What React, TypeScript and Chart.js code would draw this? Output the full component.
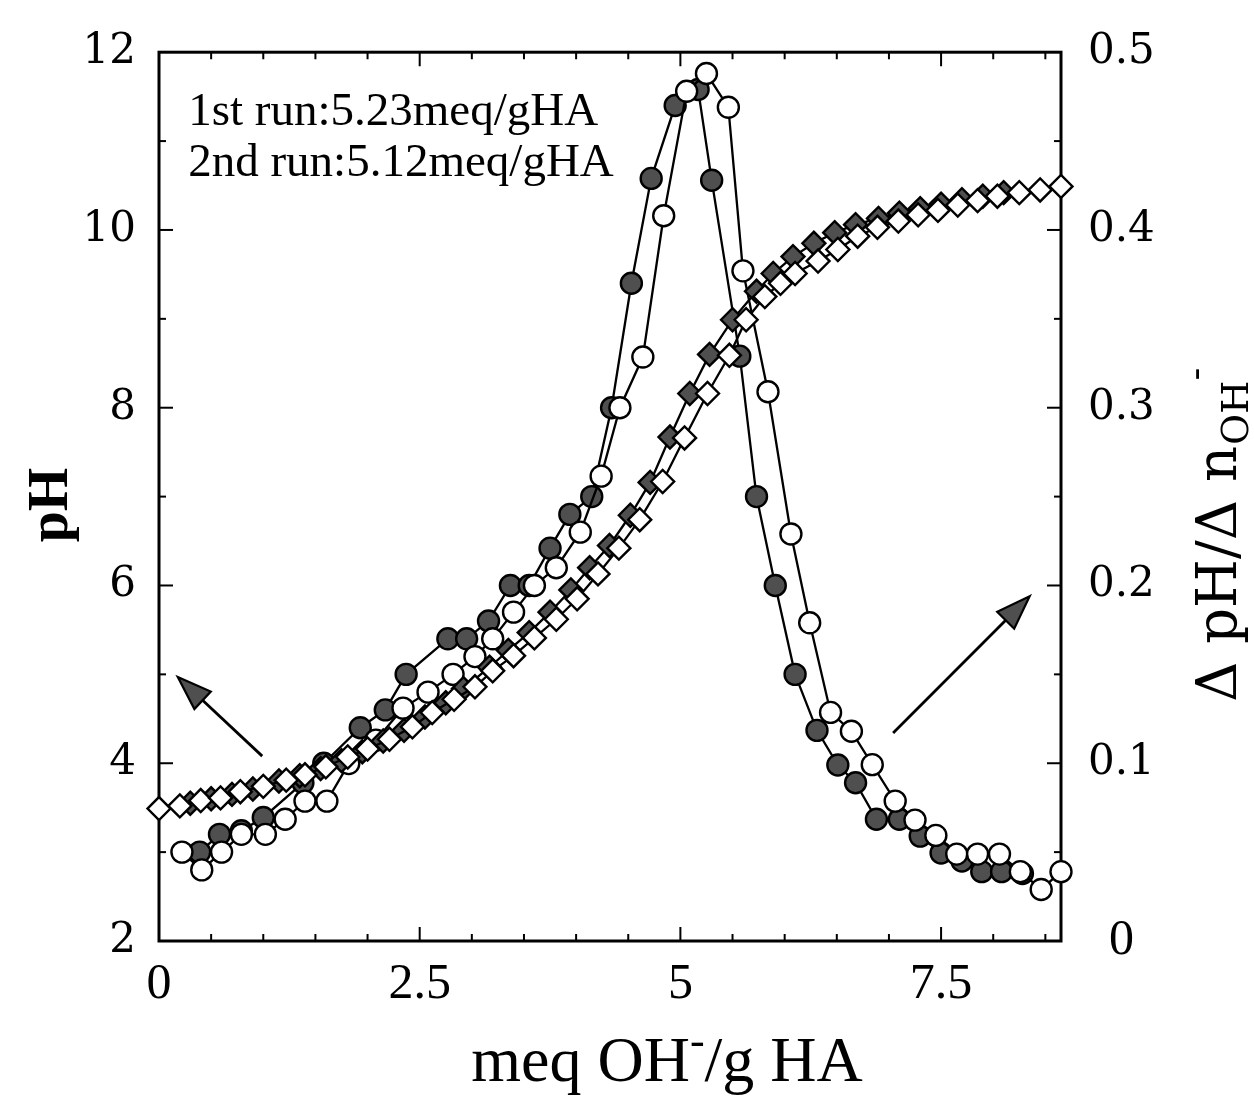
import React, { useEffect, useRef } from 'react';
import { Chart, registerables } from 'chart.js';

Chart.register(...registerables);

// ---- pH titration curves (left axis) ----
// 2nd run (open diamonds)
const openDiamondX = [0, 0.2, 0.4, 0.59, 0.78, 1.0, 1.22, 1.4, 1.6, 1.81, 2.0, 2.21, 2.43, 2.62, 2.83, 3.03, 3.2, 3.4, 3.6, 3.81, 4.01, 4.21, 4.41, 4.61, 4.83, 5.04, 5.26, 5.47, 5.63, 5.81, 5.96, 6.1, 6.32, 6.51, 6.7, 6.89, 7.09, 7.28, 7.47, 7.66, 7.85, 8.04, 8.25, 8.45, 8.65];
const openDiamondPH = [3.49, 3.52, 3.58, 3.61, 3.68, 3.74, 3.81, 3.87, 3.96, 4.07, 4.16, 4.27, 4.41, 4.57, 4.72, 4.86, 5.04, 5.21, 5.41, 5.62, 5.85, 6.13, 6.42, 6.74, 7.17, 7.66, 8.16, 8.59, 8.99, 9.25, 9.4, 9.51, 9.65, 9.78, 9.93, 10.03, 10.1, 10.17, 10.22, 10.28, 10.33, 10.38, 10.42, 10.45, 10.49];
// 1st run (filled diamonds)
const filledDiamondX = [0.3, 0.5, 0.7, 0.9, 1.15, 1.35, 1.55, 1.75, 1.95, 2.15, 2.35, 2.55, 2.75, 2.92, 3.17, 3.35, 3.55, 3.75, 3.95, 4.13, 4.32, 4.52, 4.71, 4.9, 5.09, 5.28, 5.5, 5.73, 5.89, 6.08, 6.28, 6.48, 6.68, 6.9, 7.1, 7.3, 7.5, 7.7, 7.9, 8.1];
const filledDiamondPH = [3.55, 3.6, 3.65, 3.71, 3.8, 3.86, 3.94, 4.03, 4.13, 4.25, 4.37, 4.52, 4.68, 4.84, 5.08, 5.27, 5.47, 5.7, 5.95, 6.2, 6.45, 6.79, 7.16, 7.67, 8.16, 8.6, 8.99, 9.31, 9.51, 9.7, 9.85, 9.97, 10.06, 10.13, 10.19, 10.24, 10.29, 10.34, 10.38, 10.42];

// ---- derivative curves dpH/dn (right axis) ----
// 1st run (filled circles)
const filledCircleX = [0.39, 0.58, 0.79, 1.0, 1.38, 1.58, 1.93, 2.17, 2.37, 2.77, 2.95, 3.16, 3.37, 3.55, 3.75, 3.94, 4.15, 4.34, 4.53, 4.72, 4.95, 5.17, 5.3, 5.57, 5.73, 5.91, 6.1, 6.31, 6.51, 6.68, 6.88, 7.1, 7.3, 7.5, 7.7, 7.89, 8.08, 8.28];
const filledCircleD = [0.05, 0.06, 0.062, 0.0695, 0.089, 0.1, 0.12, 0.13, 0.15, 0.17, 0.17, 0.18, 0.2, 0.2, 0.221, 0.24, 0.25, 0.3, 0.37, 0.429, 0.47, 0.479, 0.428, 0.329, 0.25, 0.2, 0.15, 0.1185, 0.099, 0.089, 0.0685, 0.0685, 0.059, 0.0495, 0.045, 0.039, 0.039, 0.038];
// 2nd run (open circles)
const openCircleX = [0.22, 0.41, 0.6, 0.79, 1.02, 1.21, 1.4, 1.61, 1.82, 2.08, 2.34, 2.58, 2.82, 3.03, 3.2, 3.4, 3.6, 3.81, 4.04, 4.24, 4.42, 4.64, 4.84, 5.06, 5.25, 5.46, 5.6, 5.84, 6.06, 6.24, 6.44, 6.64, 6.84, 7.06, 7.25, 7.45, 7.65, 7.85, 8.06, 8.26, 8.46, 8.65];
const openCircleD = [0.05, 0.04, 0.05, 0.06, 0.06, 0.0685, 0.0787, 0.0787, 0.0998, 0.113, 0.131, 0.14, 0.15, 0.16, 0.17, 0.185, 0.2, 0.21, 0.23, 0.2615, 0.3, 0.3285, 0.408, 0.478, 0.488, 0.469, 0.377, 0.309, 0.229, 0.179, 0.1286, 0.118, 0.0992, 0.0787, 0.068, 0.0594, 0.0489, 0.0489, 0.0489, 0.039, 0.029, 0.039];

// ---- axes ----
const xTicks = [0, 2.5, 5, 7.5];
const xTickLabels = ['0', '2.5', '5', '7.5'];
const phTicks = [2, 4, 6, 8, 10, 12];
const phTickLabels = ['2', '4', '6', '8', '10', '12'];
const derivTicks = [0, 0.1, 0.2, 0.3, 0.4, 0.5];
const derivTickLabels = ['0', '0.1', '0.2', '0.3', '0.4', '0.5'];
const X_MIN = 0;
const X_MAX = 8.65;

// ---- annotations ----
const noteLines = ['1st run:5.23meq/gHA', '2nd run:5.12meq/gHA'];
const xTitle = ['meq OH', '-', '/g HA'];
const yTitle = 'pH';
const y2Title = ['Δ pH/Δ n', 'OH', '-'];

const xy = (xs: number[], ys: number[]) => xs.map((x, i) => ({ x, y: ys[i] }));

const GRAY = '#4f4f4f';

function drawArrow(ctx: CanvasRenderingContext2D, x1: number, y1: number, x2: number, y2: number) {
  const ang = Math.atan2(y2 - y1, x2 - x1);
  const headLen = 34;
  const headW = 12;
  const bx = x2 - headLen * Math.cos(ang);
  const by = y2 - headLen * Math.sin(ang);
  ctx.save();
  ctx.strokeStyle = '#000';
  ctx.lineWidth = 2.8;
  ctx.beginPath();
  ctx.moveTo(x1, y1);
  ctx.lineTo(bx, by);
  ctx.stroke();
  ctx.beginPath();
  ctx.moveTo(x2, y2);
  ctx.lineTo(bx + headW * Math.sin(ang), by - headW * Math.cos(ang));
  ctx.lineTo(bx - headW * Math.sin(ang), by + headW * Math.cos(ang));
  ctx.closePath();
  ctx.fillStyle = GRAY;
  ctx.fill();
  ctx.lineWidth = 2.2;
  ctx.stroke();
  ctx.restore();
}

const framePlugin = {
  id: 'frameTicks',
  beforeDatasetsDraw(chart: any) {
    const { ctx, chartArea } = chart;
    const { left, right, top, bottom } = chartArea;
    const sx = chart.scales.x;
    const sy = chart.scales.y;
    const sy2 = chart.scales.y2;
    ctx.save();
    ctx.strokeStyle = '#000';
    ctx.lineWidth = 3;
    ctx.strokeRect(left, top, right - left, bottom - top);
    ctx.lineWidth = 2;
    const MAJ = 14;
    const MIN = 7;
    for (let k = 1; k * 0.5 < X_MAX; k++) {
      const v = k * 0.5;
      const len = xTicks.includes(v) ? MAJ : MIN;
      const px = sx.getPixelForValue(v);
      ctx.beginPath();
      ctx.moveTo(px, bottom);
      ctx.lineTo(px, bottom - len);
      ctx.moveTo(px, top);
      ctx.lineTo(px, top + len);
      ctx.stroke();
    }
    for (let v = 3; v < 12; v++) {
      const len = phTicks.includes(v) ? MAJ : MIN;
      const py = sy.getPixelForValue(v);
      ctx.beginPath();
      ctx.moveTo(left, py);
      ctx.lineTo(left + len, py);
      ctx.stroke();
    }
    for (let k = 1; k < 10; k++) {
      const v = k * 0.05;
      const len = k % 2 === 0 ? MAJ : MIN;
      const py = sy2.getPixelForValue(v);
      ctx.beginPath();
      ctx.moveTo(right, py);
      ctx.lineTo(right - len, py);
      ctx.stroke();
    }
    ctx.restore();
  },
  afterDatasetsDraw(chart: any) {
    const { ctx } = chart;
    const sx = chart.scales.x;
    const sy = chart.scales.y;
    const sy2 = chart.scales.y2;
    ctx.save();
    ctx.fillStyle = '#000';
    ctx.font = '47px "Liberation Serif", serif';
    ctx.textAlign = 'left';
    ctx.textBaseline = 'alphabetic';
    ctx.fillText(noteLines[0], sx.getPixelForValue(0.28), sy.getPixelForValue(11.18));
    ctx.fillText(noteLines[1], sx.getPixelForValue(0.28), sy.getPixelForValue(10.61));

    drawArrow(ctx, sx.getPixelForValue(0.99), sy.getPixelForValue(4.08), sx.getPixelForValue(0.18), sy.getPixelForValue(4.97));
    drawArrow(ctx, sx.getPixelForValue(7.04), sy2.getPixelForValue(0.117), sx.getPixelForValue(8.35), sy2.getPixelForValue(0.194));

    // x title with superscript minus
    ctx.fillStyle = '#000';
    ctx.font = '64px "Liberation Serif", serif';
    const w0 = ctx.measureText(xTitle[0]).width;
    const w2 = ctx.measureText(xTitle[2]).width;
    ctx.font = '44px "Liberation Serif", serif';
    const w1 = ctx.measureText(xTitle[1]).width;
    const total = w0 + w1 + w2;
    const cx = 667;
    let tx = cx - total / 2;
    const ty = 1081;
    ctx.font = '64px "Liberation Serif", serif';
    ctx.fillText(xTitle[0], tx, ty);
    tx += w0;
    ctx.font = '44px "Liberation Serif", serif';
    ctx.fillText(xTitle[1], tx, ty - 26);
    tx += w1;
    ctx.font = '64px "Liberation Serif", serif';
    ctx.fillText(xTitle[2], tx, ty);

    // left title
    ctx.save();
    ctx.translate(67, 505);
    ctx.rotate(-Math.PI / 2);
    ctx.font = 'bold 56px "Liberation Serif", serif';
    ctx.textAlign = 'center';
    ctx.fillText(yTitle, 0, 0);
    ctx.restore();

    // right title
    ctx.save();
    ctx.translate(1236, 702);
    ctx.rotate(-Math.PI / 2);
    ctx.textAlign = 'left';
    ctx.font = '56px "DejaVu Serif", serif';
    ctx.fillText(y2Title[0], 0, 0);
    let rx = ctx.measureText(y2Title[0]).width;
    ctx.font = '38px "DejaVu Serif", serif';
    ctx.fillText(y2Title[1], rx + 1, 12);
    rx += ctx.measureText(y2Title[1]).width + 1;
    ctx.fillText(y2Title[2], rx, -28);
    ctx.restore();

    ctx.restore();
  },
};

export default function App() {
  const canvasRef = useRef<HTMLCanvasElement | null>(null);

  useEffect(() => {
    const canvas = canvasRef.current;
    if (!canvas) return;
    const ptBase = {
      showLine: true,
      borderColor: '#000',
      borderWidth: 2.3,
      tension: 0,
      pointBorderColor: '#000',
      pointBorderWidth: 2.4,
      pointHoverRadius: 11,
      clip: false as any,
    };
    const chart = new Chart(canvas, {
      type: 'line',
      data: {
        datasets: [
          {
            ...ptBase,
            label: '2nd run pH',
            data: xy(openDiamondX, openDiamondPH),
            yAxisID: 'y',
            pointStyle: 'rectRot',
            pointRadius: 11.5,
            pointBackgroundColor: '#fff',
            order: 0,
          },
          {
            ...ptBase,
            label: '1st run pH',
            data: xy(filledDiamondX, filledDiamondPH),
            yAxisID: 'y',
            pointStyle: 'rectRot',
            pointRadius: 11.5,
            pointBackgroundColor: GRAY,
            order: 1,
          },
          {
            ...ptBase,
            label: '2nd run dpH/dn',
            data: xy(openCircleX, openCircleD),
            yAxisID: 'y2',
            pointStyle: 'circle',
            pointRadius: 10.5,
            pointBackgroundColor: '#fff',
            order: 2,
          },
          {
            ...ptBase,
            label: '1st run dpH/dn',
            data: xy(filledCircleX, filledCircleD),
            yAxisID: 'y2',
            pointStyle: 'circle',
            pointRadius: 10.5,
            pointBackgroundColor: GRAY,
            order: 3,
          },
        ],
      },
      options: {
        responsive: false,
        animation: false,
        events: [],
        devicePixelRatio: 1,
        layout: { padding: { top: 34, left: 0, right: 0, bottom: 0 } },
        plugins: {
          legend: { display: false },
          tooltip: { enabled: false },
          title: { display: false },
        },
        scales: {
          x: {
            type: 'linear',
            position: 'bottom',
            min: X_MIN,
            max: X_MAX,
            afterBuildTicks: (s: any) => {
              s.ticks = xTicks.map((v) => ({ value: v }));
            },
            afterFit: (s: any) => {
              s.height = 156;
            },
            grid: { display: false, drawTicks: false },
            border: { display: false },
            ticks: {
              autoSkip: false,
              maxRotation: 0,
              padding: 14,
              color: '#000',
              font: { family: '"Liberation Serif", serif', size: 50 },
              callback: (_v: any, i: number) => xTickLabels[i],
            },
          },
          y: {
            type: 'linear',
            position: 'left',
            min: 2,
            max: 12,
            afterBuildTicks: (s: any) => {
              s.ticks = phTicks.map((v) => ({ value: v }));
            },
            afterFit: (s: any) => {
              s.width = 159;
            },
            grid: { display: false, drawTicks: false },
            border: { display: false },
            ticks: {
              autoSkip: false,
              padding: 23,
              color: '#000',
              font: { family: '"DejaVu Serif", serif', size: 42 },
              callback: (_v: any, i: number) => phTickLabels[i],
            },
          },
          y2: {
            type: 'linear',
            position: 'right',
            min: 0,
            max: 0.5,
            afterBuildTicks: (s: any) => {
              s.ticks = derivTicks.map((v) => ({ value: v }));
            },
            afterFit: (s: any) => {
              s.width = 193;
            },
            grid: { display: false, drawTicks: false },
            border: { display: false },
            ticks: {
              autoSkip: false,
              padding: 27,
              crossAlign: 'center',
              color: '#000',
              font: (c: any) =>
                c.tick && c.tick.value === 0
                  ? { family: '"Liberation Serif", serif', size: 50 }
                  : { family: '"DejaVu Serif", serif', size: 42 },
              callback: (_v: any, i: number) => derivTickLabels[i],
            },
          },
        },
      },
      plugins: [framePlugin],
    });
    return () => chart.destroy();
  }, []);

  return (
    <div style={{ position: 'absolute', left: 0, top: 0, width: 1254, height: 1097, background: '#fff' }}>
      <canvas ref={canvasRef} width={1254} height={1097} />
    </div>
  );
}
